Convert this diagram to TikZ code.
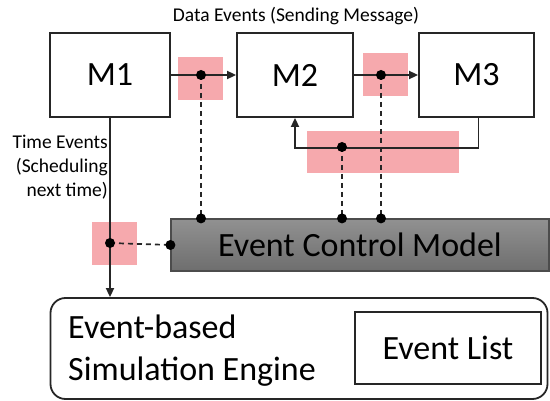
\documentclass[tikz,border=0pt]{standalone}
\usepackage{fontspec}
\setmainfont{Carlito}
\usetikzlibrary{arrows.meta,calc}
\definecolor{pinkhl}{HTML}{F6A9AD}
\definecolor{ecmtop}{HTML}{919191}
\definecolor{ecmbot}{HTML}{6E6E6E}
\begin{document}
\begin{tikzpicture}[x=1pt,y=-1pt,
  bigfont/.style={font=\fontsize{34}{42}\selectfont},
  smallfont/.style={font=\fontsize{19.5}{24}\selectfont},
  modbox/.style={draw=black!85,line width=1.8pt,minimum width=#1,minimum height=84pt,inner sep=0pt,bigfont},
  conn/.style={line width=1.7pt,draw=black!85},
  arr/.style={conn,-{Triangle[length=9pt,width=8pt]}},
  dashconn/.style={line width=1.7pt,draw=black!85,dash pattern=on 5pt off 4pt},
  hl/.style={fill=pinkhl,draw=none},
  dotnode/.style={circle,fill=black,inner sep=0pt,minimum size=10pt}]
\useasboundingbox (0,0) rectangle (550,401);
% highlight regions
\fill[hl] (178,57) rectangle (223,100);
\fill[hl] (363,53) rectangle (408,96);
\fill[hl] (307,131) rectangle (459,173);
\fill[hl] (92,222) rectangle (137,265);
% modules
\node[modbox=120pt] (M1) at (110,75) {M1};
\node[modbox=116pt] (M2) at (295,75) {M2};
\node[modbox=115pt] (M3) at (476.5,75) {M3};
\node[smallfont] (data) at (296,16) {Data Events (Sending Message)};
\node[smallfont,align=right,anchor=east,inner sep=0pt] (time) at (108,167) {Time Events\\(Scheduling\\next time)};
% event control model
\node[draw=black!70,line width=1.2pt,top color=ecmtop,bottom color=ecmbot,minimum width=378pt,minimum height=52pt,inner sep=0pt,bigfont] (ECM) at (360,245) {Event Control Model};
% engine
\node[draw=black!85,line width=1.8pt,rounded corners=15pt,minimum width=497pt,minimum height=101pt,inner sep=0pt] (ENG) at (299,348.5) {};
\node[bigfont,align=left,anchor=west,inner sep=0pt] (engtxt) at (68,351) {Event-based\\Simulation Engine};
\node[draw=black!85,line width=1.8pt,minimum width=186pt,minimum height=72pt,inner sep=0pt,bigfont] (EL) at (448,348) {Event List};
% coordinates for taps
\coordinate (d1) at (201,75);
\coordinate (d2) at (381,75);
\coordinate (d3) at (342,147);
\coordinate (d4) at (110,243);
% data arrows
\draw[arr] (M1.east) -- (M2.west);
\draw[arr] (M2.east) -- (M3.west);
\draw[arr] ([xshift=2pt]M3.south) -- ++(0,30) -| (M2.south);
% time event arrow
\draw[arr] (M1.south) -- (M1.south |- ENG.north);
% dashed taps
\draw[dashconn] (d1) -- (d1 |- ECM.north);
\draw[dashconn] (d2) -- (d2 |- ECM.north);
\draw[dashconn] (d3) -- (d3 |- ECM.north);
\draw[dashconn] (d4) -- (ECM.west);
% dots
\node[dotnode] (p1) at (d1) {};
\node[dotnode] (p2) at (d2) {};
\node[dotnode] (p3) at (d3) {};
\node[dotnode] (p4) at (d4) {};
\node[dotnode] (q1) at (d1 |- ECM.north) {};
\node[dotnode] (q2) at (d2 |- ECM.north) {};
\node[dotnode] (q3) at (d3 |- ECM.north) {};
\node[dotnode] (q4) at (ECM.west) {};
\end{tikzpicture}
\end{document}
